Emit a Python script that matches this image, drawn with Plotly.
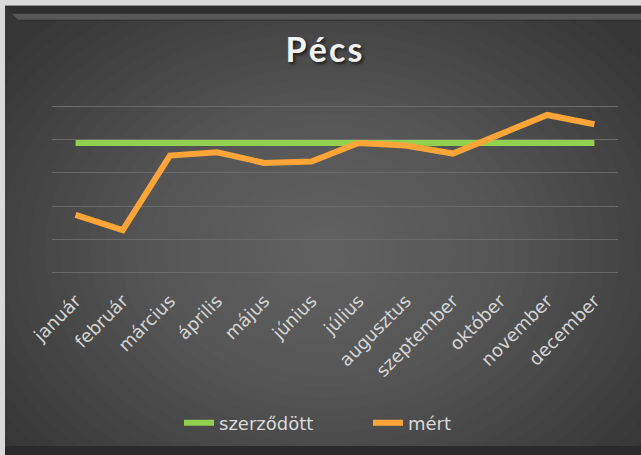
import plotly.graph_objects as go

# chart data
honapok = ["január", "február", "március", "április", "május", "június",
           "július", "augusztus", "szeptember", "október", "november", "december"]
szerzodott = [195, 195, 195, 195, 195, 195, 195, 195, 195, 195, 195, 195]
mert = [87, 64, 176, 181, 165, 167, 195, 191, 179, 207, 237, 223]

W, H = 641, 455
# plot area in pixels: value 0 at y=273, value 250 at y=106
UNIT = (273 - 106) / 250
PAD = 2
L, R = 52, 23
T = 106 - PAD * UNIT
B = H - 273 - PAD * UNIT
PW, PH = W - L - R, H - T - B


def px(x):
    return (x - L) / PW


def py(y):
    return (H - B - y) / PH


fig = go.Figure()
fig.add_trace(go.Scatter(x=honapok, y=szerzodott, name="szerződött", mode="lines",
                         line=dict(color="#92d050", width=6)))
fig.add_trace(go.Scatter(x=honapok, y=mert, name="mért", mode="lines",
                         line=dict(color="#ffa537", width=6)))

# dark chart area with a soft radial glow
shapes = [
    dict(type="rect", xref="paper", yref="paper", layer="below",
         x0=px(5), x1=px(660), y0=py(5), y1=py(470),
         fillcolor="#363636", line=dict(width=0)),
]
for i in range(26):
    rx = 400 - i * 15
    ry = 310 - i * 11.5
    cx, cy = 325, 250
    shapes.append(dict(type="circle", xref="paper", yref="paper", layer="below",
                       x0=px(cx - rx), x1=px(cx + rx), y0=py(cy - ry), y1=py(cy + ry),
                       fillcolor="rgba(255,255,255,0.0105)", line=dict(width=0)))
# top bevel highlight
shapes.append(dict(type="path", xref="paper", yref="paper", layer="below",
                   path="M {},{} L {},{} L {},{} L {},{} Z".format(
                       px(5), py(5), px(641), py(5), px(641), py(20), px(20), py(20)),
                   fillcolor="#2f2f2f", line=dict(width=0)))
shapes.append(dict(type="path", xref="paper", yref="paper", layer="below",
                   path="M {},{} L {},{} L {},{} L {},{} Z".format(
                       px(12), py(13), px(641), py(13), px(641), py(19), px(18), py(19)),
                   fillcolor="rgba(120,120,120,0.55)", line=dict(width=0)))
# bottom edge
shapes.append(dict(type="rect", xref="paper", yref="paper", layer="below",
                   x0=px(5), x1=px(660), y0=py(447), y1=py(470),
                   fillcolor="#2b2b2b", line=dict(width=0)))

fig.update_layout(
    width=W, height=H,
    margin=dict(l=L, r=R, t=T, b=B),
    paper_bgcolor="#d9d9d9",
    plot_bgcolor="rgba(0,0,0,0)",
    shapes=shapes,
    title=dict(text="P\u200aé\u200ac\u200as", x=324 / W, xanchor="center",
               y=1 - 50 / H, yanchor="middle",
               font=dict(family="Lato", size=34, color="#f2f2f2", weight="bold",
                         shadow="2px 2px 3px rgba(0,0,0,0.6)")),
    font=dict(family="DejaVu Sans", color="#d9d9d9"),
    xaxis=dict(showgrid=False, zeroline=False, showline=False, tickangle=-45,
               ticks="", ticklabelstandoff=12, automargin=False,
               range=[-0.5, 11.5],
               tickfont=dict(family="DejaVu Sans", size=18, color="#d4d4d4")),
    yaxis=dict(range=[-PAD, 250 + PAD], tickvals=[0, 50, 100, 150, 200, 250],
               showticklabels=False, zeroline=False, automargin=False,
               showgrid=True, gridcolor="#6a6a6a", gridwidth=1.2),
    legend=dict(orientation="h", x=px(368), xanchor="center", y=py(424), yanchor="middle",
                font=dict(family="DejaVu Sans", size=18, color="#d9d9d9"),
                entrywidth=144, bgcolor="rgba(0,0,0,0)"),
    showlegend=True,
)

fig.write_html("out.html", config={"displayModeBar": False},
               post_script="document.body.style.margin='0';")
